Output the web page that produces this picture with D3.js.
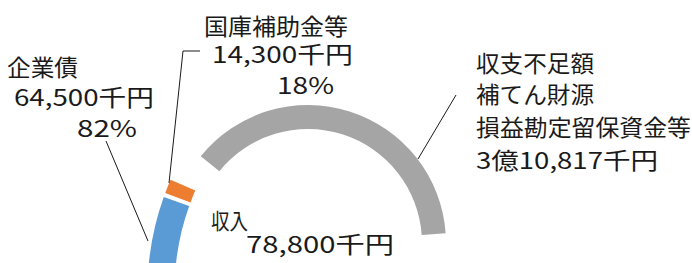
<!DOCTYPE html>
<html>
<head>
<meta charset="utf-8">
<script src="https://cdn.jsdelivr.net/npm/d3@7"></script>
<style>
  body { margin: 0; background: #fff; }
  text { font-family: "Noto Sans CJK JP", "Noto Sans", sans-serif; font-size: 23px; fill: #1a1a1a; }
</style>
</head>
<body>
<div id="chart"></div>
<script>
// values in 千円
const incomeNames = ["企業債", "国庫補助金等"];
const incomeValues = [64500, 14300];
const incomeLabel = "収入";
const deficitNames = ["収支不足額", "補てん財源", "損益勘定留保資金等"];
const deficitValue = 310817;

const incomeColors = ["#5b9bd5", "#ed7d31"];
const deficitColor = "#a5a5a5";

const width = 692;
const height = 263;

const svg = d3.select("#chart").append("svg")
  .attr("width", width)
  .attr("height", height);

const rad = d => d * Math.PI / 180;
const arc = d3.arc();
const income = d3.sum(incomeValues);

// income ring (blue / orange): a wide, flat ring, only its top-left part shows
const incCum = [0, incomeValues[0], income];
const incAngle = d3.scaleLinear()
  .domain(incCum)
  .range([-88, -69.85, -66.5]);
const incGap = [0, 0.45, 0];

svg.append("g")
  .attr("transform", "translate(425.5,290.7)")
  .selectAll("path")
  .data(incomeValues)
  .join("path")
  .attr("fill", (d, i) => incomeColors[i])
  .attr("d", (d, i) => arc({
    innerRadius: 251,
    outerRadius: 278,
    startAngle: rad(incAngle(incCum[i]) + incGap[i]),
    endAngle: rad(incAngle(incCum[i + 1]) - incGap[i + 1])
  }));

// deficit ring (gray)
const defAngle = d3.scaleLinear()
  .domain([0, deficitValue])
  .range([-51, 86]);

svg.append("g")
  .attr("transform", "translate(308,243)")
  .append("path")
  .datum(deficitValue)
  .attr("fill", deficitColor)
  .attr("d", d => arc({
    innerRadius: 114,
    outerRadius: 138,
    startAngle: rad(defAngle(0)),
    endAngle: rad(defAngle(d))
  }));

// number formats
const fmt = d3.format(",");
const pct = d3.format(".0%");
const yen = v => v >= 100000
  ? Math.floor(v / 100000) + "億" + fmt(v % 100000) + "千円"
  : fmt(v) + "千円";

// leader lines
const leaders = [[106, 141, 148, 241], [200, 51, 183, 51, 169, 183], [456, 95, 418, 159]];
leaders.forEach(p => {
  const pts = d3.range(0, p.length, 2).map(k => [p[k], p[k + 1]]);
  svg.append("path")
    .attr("d", d3.line()(pts))
    .attr("fill", "none")
    .attr("stroke", "#1a1a1a")
    .attr("stroke-width", 1);
});

// labels: text, x, y (centre), width, font size
const labels = [
  [incomeNames[0], 7, 66, 71], [yen(incomeValues[0]), 14, 96, 140], [pct(incomeValues[0] / income), 77, 127, 60],
  [incomeNames[1], 204, 25, 144], [yen(incomeValues[1]), 212, 53, 141], [pct(incomeValues[1] / income), 277, 84, 57],
  [deficitNames[0], 476, 62, 118], [deficitNames[1], 476, 93, 118], [deficitNames[2], 476, 126, 215],
  [yen(deficitValue), 476, 159, 182],
  [incomeLabel, 211, 219, 37, 22], [yen(income), 246, 243, 148]
];

labels.forEach(([t, x, y, w, fs]) => {
  svg.append("text")
    .attr("x", x)
    .attr("y", y)
    .attr("dominant-baseline", "central")
    .attr("textLength", w)
    .attr("lengthAdjust", "spacingAndGlyphs")
    .style("font-size", (fs || 23) + "px")
    .text(t);
});
</script>
</body>
</html>
